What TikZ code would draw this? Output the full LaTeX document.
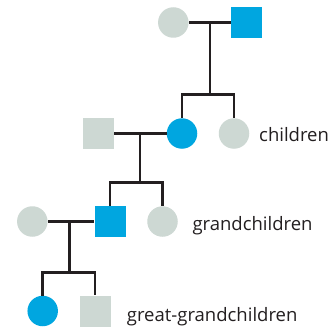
\documentclass[tikz,border=0pt]{standalone}
\usepackage{fontspec}
\setmainfont{Open Sans}
\definecolor{pblue}{HTML}{00A6E0}
\definecolor{pgray}{HTML}{CDD8D3}
\definecolor{pline}{HTML}{231F20}
\begin{document}
\begin{tikzpicture}[x=1pt,y=-1pt,
  fem/.style={circle,inner sep=0pt,minimum size=30.5pt},
  mal/.style={rectangle,inner sep=0pt,minimum size=31pt},
  aff/.style={fill=pblue},
  una/.style={fill=pgray},
  link/.style={draw=pline,line width=2.5pt},
  lbl/.style={anchor=base west,inner sep=0pt,font=\fontsize{18.5}{22}\selectfont,text=pline}]
\useasboundingbox[fill=white] (0,0) rectangle (329,329);
% generation 1
\node[fem,una] (gm) at (173.3,22.5) {};
\node[mal,aff] (gf) at (246.7,22.5) {};
% generation 2
\node[fem,aff] (c1) at (182,133.5) {};
\node[fem,una] (c2) at (234,133.5) {};
\node[mal,una] (sp1) at (98.5,133.5) {};
% generation 3
\node[mal,aff] (g1) at (110,221.5) {};
\node[fem,una] (g2) at (162.5,221.5) {};
\node[fem,una] (sp2) at (32.3,221.5) {};
% generation 4
\node[fem,aff] (gg1) at (42.7,311) {};
\node[mal,una] (gg2) at (95,311) {};
% junctions
\coordinate (m1) at (210,22.5);
\coordinate (s1) at (210,94.3);
\coordinate (m2) at (140,133.5);
\coordinate (s2) at (140,182.7);
\coordinate (m3) at (69.3,221.5);
\coordinate (s3) at (69.3,272.3);
% connectors
\draw[link] (gm) -- (gf);
\draw[link] (m1) -- (s1);
\draw[link] (c1.north) |- (s1) -| (c2.north);
\draw[link] (sp1) -- (c1);
\draw[link] (m2) -- (s2);
\draw[link] (g1.north) |- (s2) -| (g2.north);
\draw[link] (sp2) -- (g1);
\draw[link] (m3) -- (s3);
\draw[link] (gg1.north) |- (s3) -| (gg2.north);
% labels
\node[lbl] (l1) at (259,141.7) {children};
\node[lbl] (l2) at (192.3,230) {grandchildren};
\node[lbl] (l3) at (126.7,321.7) {great-grandchildren};
\end{tikzpicture}
\end{document}
